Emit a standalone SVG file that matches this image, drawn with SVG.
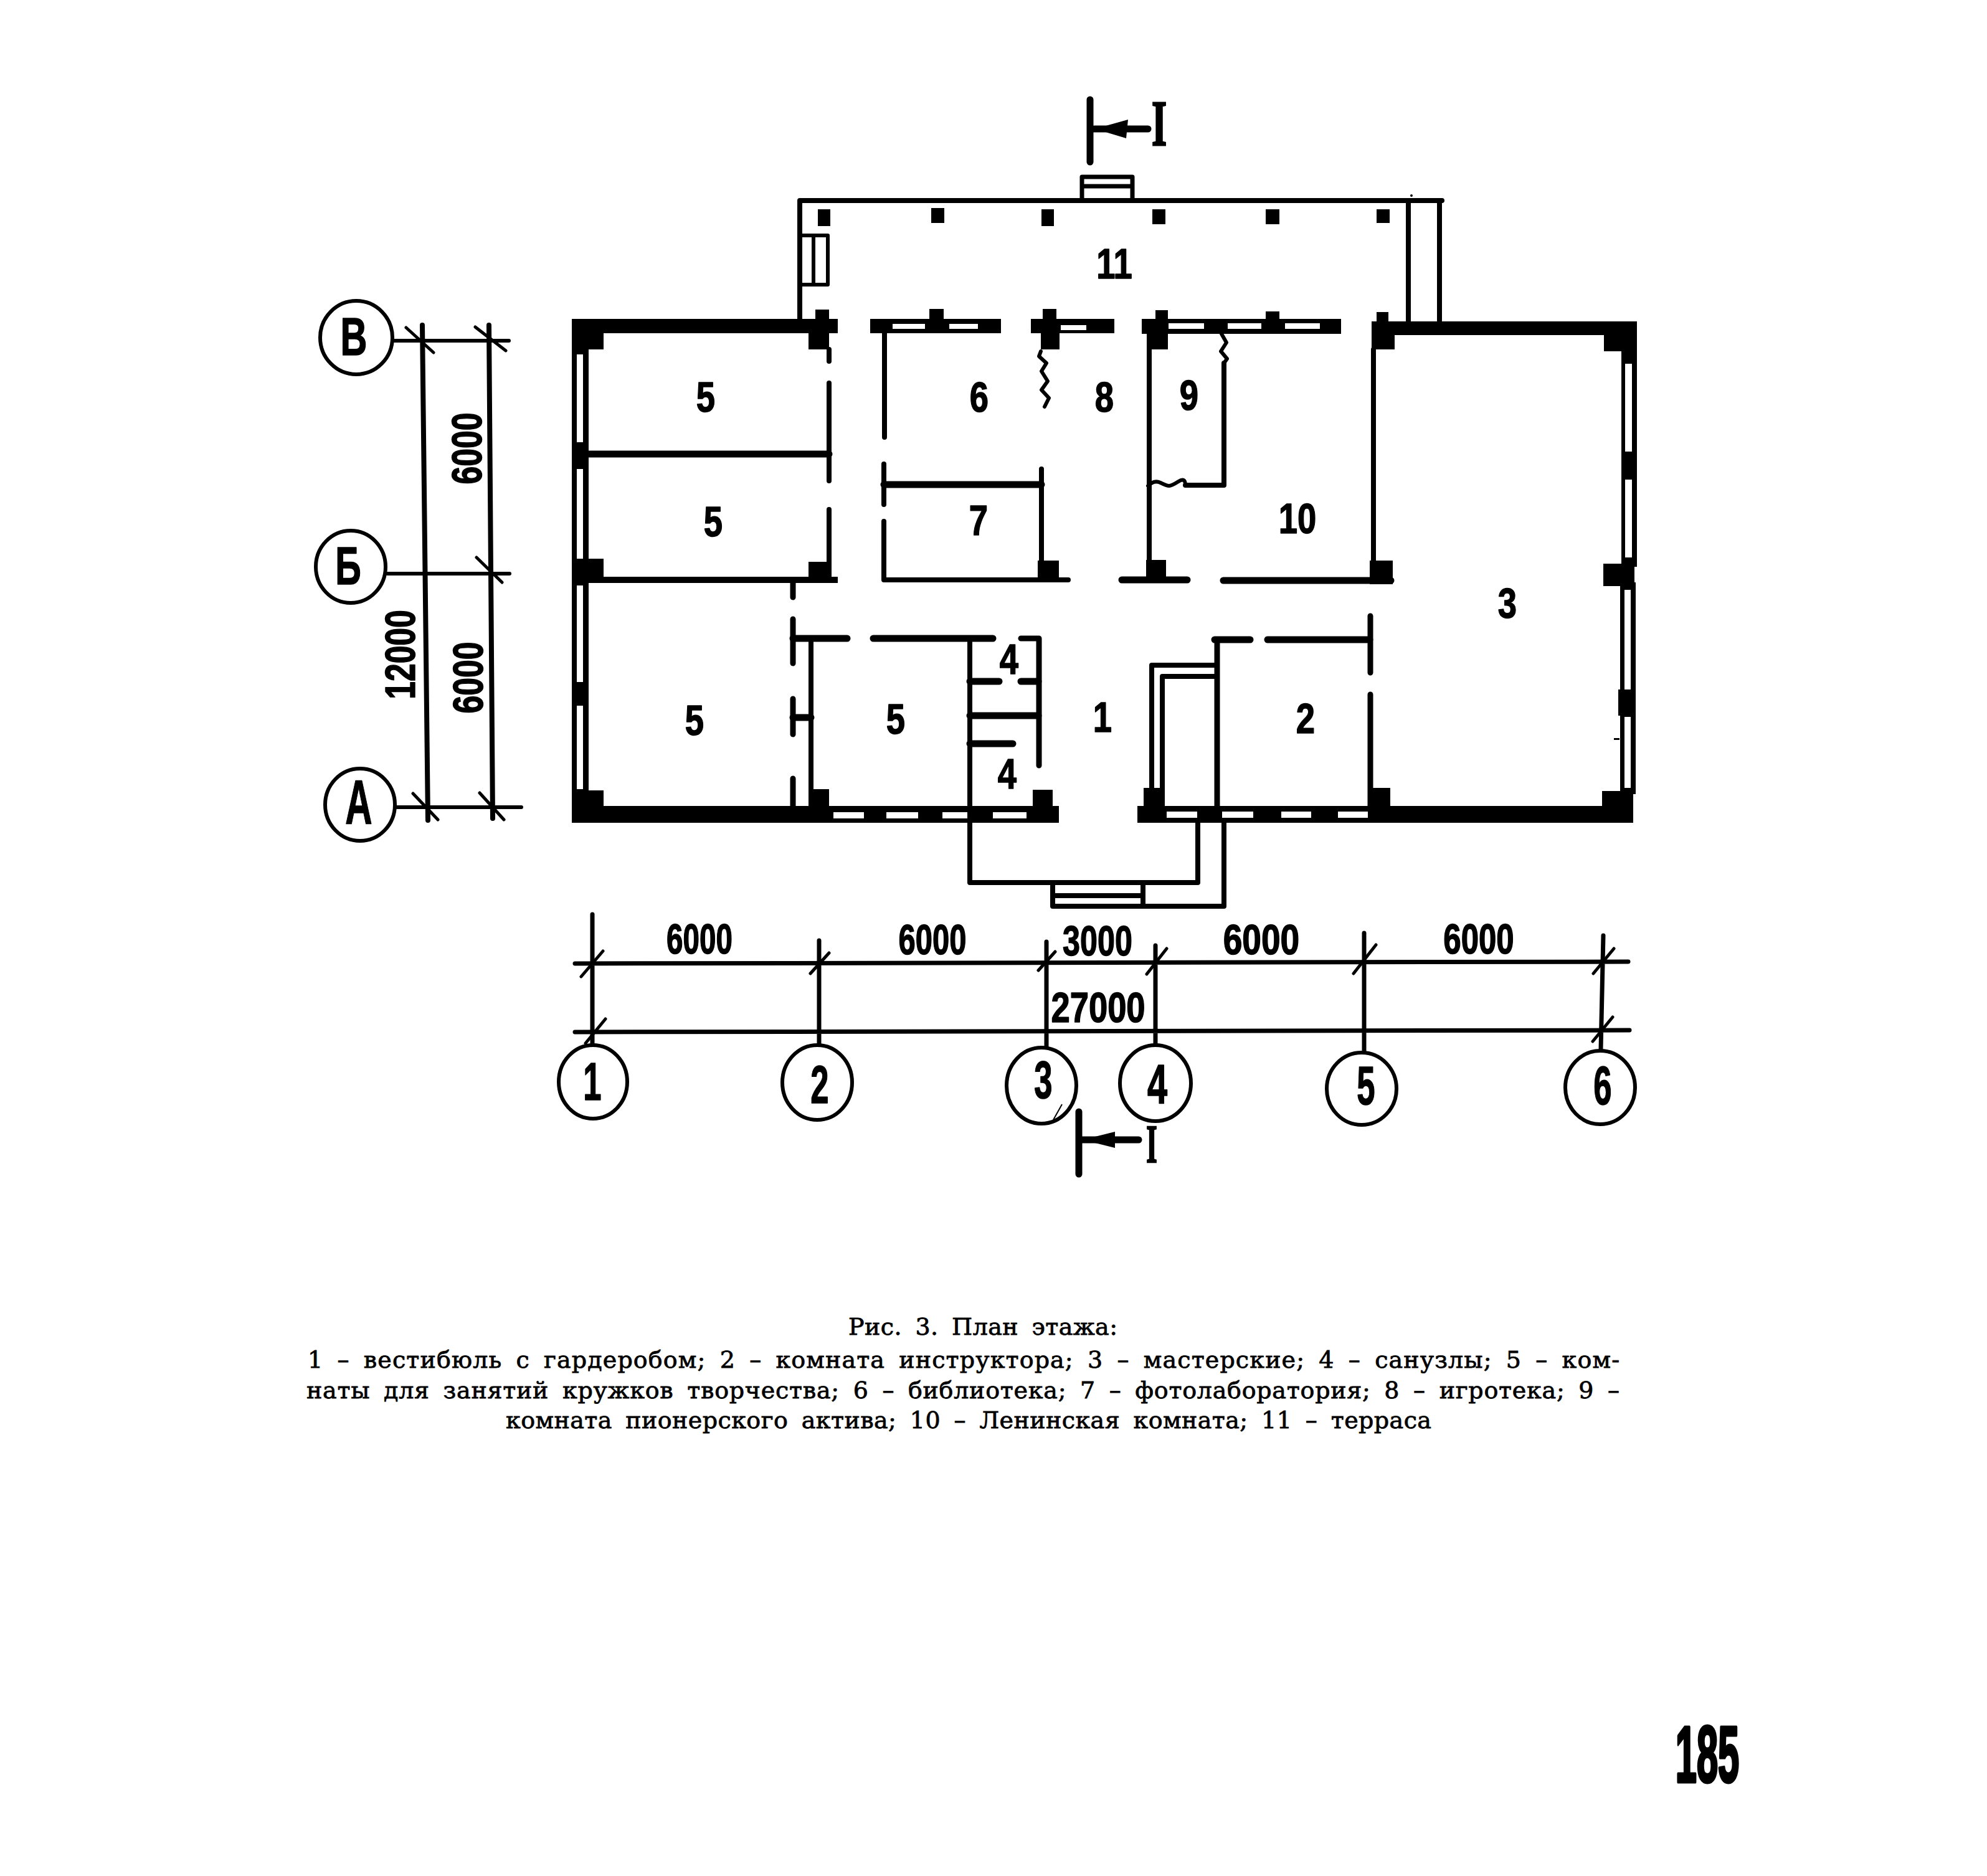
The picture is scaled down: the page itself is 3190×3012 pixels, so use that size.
<svg xmlns="http://www.w3.org/2000/svg" width="3190" height="3012" viewBox="0 0 3190 3012">
<style>
.w{fill:#000}
.g{fill:#fff}
.l{fill:none;stroke:#000;stroke-width:8;stroke-linecap:round;stroke-linejoin:round}
.t{stroke-width:11}
.n{stroke-width:6}
.d{stroke-width:7}
.k{stroke-width:5}
.c{fill:#fff;stroke:#000;stroke-width:6}
text{fill:#000}
.s{font-family:"Liberation Sans",Arial,sans-serif;font-weight:700;text-anchor:middle;stroke:#000;stroke-width:1.5;stroke-linejoin:round}
.r{font-size:68px}
.a{font-size:68px}
.b{font-size:85px}
.i{font-family:"Liberation Serif",serif;font-weight:700;font-size:100px;text-anchor:middle;stroke:#000;stroke-width:3}
.p{font-family:"DejaVu Serif",serif;font-size:38px;word-spacing:9px;stroke:#000;stroke-width:.8}
</style>
<rect width="3190" height="3012" fill="#fff"/>

<g id="terrace">
<path class="l" d="M1284 512V322H2315M2261 324V515M2311 324V515"/>
<path class="l n" d="M1737 322V284H1818V322M1737 299H1818" style="stroke-width:7"/>
<path class="l n" d="M1287 378H1329V457H1287M1306 378V457"/>
<circle cx="2266" cy="314" r="2" class="w"/>
<rect class="w" x="1313" y="336" width="20" height="27"/>
<rect class="w" x="1495" y="334" width="21" height="24"/>
<rect class="w" x="1672" y="336" width="20" height="27"/>
<rect class="w" x="1850" y="336" width="21" height="24"/>
<rect class="w" x="2032" y="336" width="22" height="24"/>
<rect class="w" x="2210" y="336" width="21" height="22"/>
</g>

<g id="walls">
<rect class="w" x="918" y="512" width="427" height="23"/>
<rect class="w" x="918" y="512" width="51" height="49"/>
<rect class="w" x="1309" y="497" width="22" height="64"/>
<rect class="w" x="1298" y="530" width="33" height="31"/>
<rect class="w" x="918" y="561" width="27" height="708"/>
<rect class="g" x="926" y="569" width="10" height="141"/>
<rect class="g" x="926" y="753" width="10" height="144"/>
<rect class="g" x="926" y="940" width="10" height="155"/>
<rect class="g" x="926" y="1133" width="10" height="134"/>
<rect class="w" x="918" y="897" width="51" height="39"/>
<rect class="w" x="918" y="926" width="427" height="10"/>
<rect class="w" x="1298" y="902" width="36" height="26"/>

<rect class="w" x="1397" y="512" width="210" height="23"/>
<rect class="g" x="1433" y="520" width="52" height="8"/>
<rect class="g" x="1524" y="520" width="46" height="8"/>
<rect class="w" x="1492" y="496" width="23" height="20"/>

<rect class="w" x="1655" y="512" width="134" height="23"/>
<rect class="g" x="1703" y="522" width="41" height="8"/>
<rect class="w" x="1674" y="496" width="22" height="40"/>
<rect class="w" x="1671" y="530" width="30" height="31"/>

<rect class="w" x="1833" y="512" width="320" height="24"/>
<rect class="g" x="1876" y="519" width="57" height="9"/>
<rect class="g" x="1971" y="519" width="54" height="9"/>
<rect class="g" x="2063" y="519" width="56" height="9"/>
<rect class="w" x="1855" y="498" width="20" height="20"/>
<rect class="w" x="1841" y="530" width="34" height="31"/>
<rect class="w" x="2032" y="500" width="22" height="16"/>

<rect class="w" x="2202" y="516" width="426" height="22"/>
<rect class="w" x="2202" y="517" width="37" height="44"/>
<rect class="w" x="2210" y="501" width="19" height="20"/>
<rect class="w" x="2575" y="516" width="53" height="48"/>
<rect class="w" x="2603" y="560" width="25" height="350"/>
<rect class="g" x="2609" y="584" width="11" height="141"/>
<rect class="g" x="2609" y="770" width="11" height="125"/>
<rect class="w" x="2574" y="905" width="50" height="36"/>
<rect class="w" x="2601" y="935" width="25" height="340"/>
<rect class="g" x="2608" y="947" width="10" height="160"/>
<rect class="g" x="2608" y="1151" width="10" height="114"/>
<rect class="w" x="2598" y="1107" width="28" height="42"/>
<rect class="w" x="2591" y="1185" width="9" height="3"/>
<rect class="w" x="2572" y="1270" width="50" height="30"/>

<rect class="w" x="918" y="1294" width="782" height="27"/>
<rect class="w" x="918" y="1269" width="51" height="30"/>
<rect class="g" x="1338" y="1304" width="49" height="10"/>
<rect class="g" x="1423" y="1304" width="51" height="10"/>
<rect class="g" x="1513" y="1304" width="40" height="10"/>
<rect class="g" x="1594" y="1304" width="54" height="10"/>
<rect class="w" x="1301" y="1267" width="30" height="30"/>
<rect class="w" x="1658" y="1268" width="32" height="30"/>

<rect class="w" x="1826" y="1294" width="796" height="27"/>
<rect class="g" x="1873" y="1303" width="49" height="10"/>
<rect class="g" x="1962" y="1303" width="50" height="10"/>
<rect class="g" x="2057" y="1303" width="48" height="10"/>
<rect class="g" x="2148" y="1303" width="48" height="10"/>
<rect class="w" x="1836" y="1265" width="34" height="32"/>
<rect class="w" x="2197" y="1265" width="35" height="32"/>

<rect class="w" x="1666" y="900" width="34" height="28"/>
<rect class="w" x="1840" y="899" width="32" height="30"/>
<rect class="w" x="2199" y="900" width="37" height="38"/>
</g>

<g id="partitions">
<path class="l" d="M1331 561V580M1331 615V772M1331 818V927M1420 535V702M1419 745V810M1419 837V931H1715M1672 753V927"/>
<path class="l" d="M1845 561V927M1965 583V779H1903M2205 561V900"/>
<path class="l t" d="M944 729H1331M1419 778H1672M1801 931H1906M1964 932H2233"/>
<path class="l" style="stroke-width:6" d="M1671 564L1668 572 1680 583 1672 596 1682 612 1672 626 1684 639 1677 653M1961 536L1969 550 1960 564 1970 576 1965 583M1843 780Q1853 770 1863 775T1877 780T1892 773T1903 779"/>
<path class="l" style="stroke-width:9" d="M1273 936V959M1273 994V1065M1273 1122V1179M1273 1250V1294"/>
<path class="l t" d="M1273 1025H1360M1402 1025H1594M1273 1152H1302"/>
<path class="l" d="M1302 1025V1294M1557 1025V1417H1923V1321M1965 1321V1455H1690V1417M1835 1417V1455M1690 1438H1835"/>
<path class="l" style="stroke-width:9" d="M1639 1025H1668V1229"/>
<path class="l t" d="M1557 1094H1604M1639 1094H1667M1557 1149H1667M1557 1194H1626"/>
<path class="l t" d="M1950 1027H2007M2035 1027H2199"/>
<path class="l" style="stroke-width:9" d="M1954 1027V1294M2200 989V1080M2200 1115V1294"/>
<path class="l" d="M1954 1068H1849V1265M1954 1086H1866V1294"/>
</g>

<g id="section-marks">
<path class="l t" d="M1750 160V260M1757 207H1843M1732 1785V1885M1738 1830H1828"/>
<path class="w" d="M1758 207L1811 192 1808 222Z"/>
<path class="w" d="M1738 1830L1790 1817 1790 1843Z"/>
<text class="i" transform="translate(1861 233) scale(.62 1.03)">I</text>
<text class="i" transform="translate(1849 1866) scale(.45 .87)">I</text>
</g>

<g id="dimensions">
<path class="l n" d="M633 547H817M622 921H818M637 1296H837"/>
<path class="l" d="M678 522L687 1317M785 522L791 1314"/>
<path class="l k" d="M652 526L696 566M763 525L812 563M765 895L806 935M663 1274L703 1316M770 1273L809 1316"/>
<path class="l d" d="M923 1547L2614 1544M923 1657L2616 1654M951 1468V1677M1315 1510V1677M1680 1512V1680M1855 1518V1677M2190 1498V1688M2574 1502L2570 1685"/>
<path class="l k" d="M968 1527L933 1568M972 1636L940 1675M1331 1530L1301 1563M1694 1528L1667 1558M1873 1523L1841 1564M2209 1517L2173 1563M2591 1523L2558 1563M2589 1633L2557 1672"/>
<g id="dim-labels">
<text class="s a" transform="translate(773 720) rotate(-90) scale(.76 1)">6000</text>
<text class="s a" transform="translate(775 1088) rotate(-90) scale(.76 1)">6000</text>
<text class="s a" transform="translate(666 1051) rotate(-90) scale(.76 1)">12000</text>
<text class="s a" transform="translate(1123 1531) scale(.7 1)">6000</text>
<text class="s a" transform="translate(1497 1532) scale(.72 1)">6000</text>
<text class="s a" transform="translate(1762 1534) scale(.74 1)">3000</text>
<text class="s a" transform="translate(1763 1641) scale(.8 1)">27000</text>
<text class="s a" transform="translate(2025 1532) scale(.81 1)">6000</text>
<text class="s a" transform="translate(2374 1531) scale(.75 1)">6000</text>
</g>
</g>

<g id="axis-В"><ellipse class="c" cx="572" cy="542" rx="58" ry="59"/><text class="s b" transform="translate(568 570) scale(.7 1)">В</text></g>
<g id="axis-Б"><ellipse class="c" cx="563" cy="910" rx="56" ry="58"/><text class="s b" transform="translate(559 938) scale(.68 1)">Б</text></g>
<g id="axis-А"><ellipse class="c" cx="578" cy="1292" rx="56" ry="58"/><text class="s b" style="font-size:100px" transform="translate(576 1323) scale(.6 1)">А</text></g>
<g id="axis-1"><ellipse class="c" cx="952" cy="1737" rx="55" ry="59"/><text class="s b" transform="translate(951 1766) scale(.62 1)">1</text></g>
<g id="axis-2"><ellipse class="c" cx="1312" cy="1738" rx="56" ry="60"/><text class="s b" transform="translate(1316 1771) scale(.62 1)">2</text></g>
<g id="axis-3"><ellipse class="c" cx="1672" cy="1743" rx="56" ry="61"/><text class="s b" transform="translate(1675 1763) scale(.62 1)">3</text>
<path d="M1705 1773L1691 1798" stroke="#000" stroke-width="2" fill="none"/></g>
<g id="axis-4"><ellipse class="c" cx="1855" cy="1739" rx="57" ry="61"/><text class="s b" transform="translate(1858 1772) scale(.68 1.05)">4</text></g>
<g id="axis-5"><ellipse class="c" cx="2186" cy="1748" rx="56" ry="58"/><text class="s b" transform="translate(2193 1773) scale(.62 1.03)">5</text></g>
<g id="axis-6"><ellipse class="c" cx="2569" cy="1746" rx="56" ry="59"/><text class="s b" transform="translate(2573 1773) scale(.62 1.03)">6</text></g>

<g id="room-labels">
<text class="s r" transform="translate(1133 661) scale(.8 1)">5</text>
<text class="s r" transform="translate(1145 861) scale(.8 1)">5</text>
<text class="s r" transform="translate(1572 661) scale(.8 1)">6</text>
<text class="s r" transform="translate(1773 661) scale(.8 1)">8</text>
<text class="s r" transform="translate(1571 859) scale(.8 1)">7</text>
<text class="s r" transform="translate(1789 447) scale(.8 1)">11</text>
<text class="s r" transform="translate(1909 658) scale(.8 1)">9</text>
<text class="s r" transform="translate(2083 856) scale(.8 1)">10</text>
<text class="s r" transform="translate(2420 992) scale(.8 1)">3</text>
<text class="s r" transform="translate(2096 1177) scale(.8 1)">2</text>
<text class="s r" transform="translate(1770 1175) scale(.8 1)">1</text>
<text class="s r" transform="translate(1115 1180) scale(.8 1)">5</text>
<text class="s r" transform="translate(1438 1178) scale(.8 1)">5</text>
<text class="s r" transform="translate(1620 1082) scale(.8 1)">4</text>
<text class="s r" transform="translate(1617 1266) scale(.8 1)">4</text>
</g>

<g id="caption">
<text class="p" x="1362" y="2143" textLength="432" lengthAdjust="spacing">Рис. 3. План этажа:</text>
<text class="p" x="494" y="2196" textLength="2106" lengthAdjust="spacing">1 – вестибюль с гардеробом; 2 – комната инструктора; 3 – мастерские; 4 – санузлы; 5 – ком-</text>
<text class="p" x="492" y="2245" textLength="2108" lengthAdjust="spacing">наты для занятий кружков творчества; 6 – библиотека; 7 – фотолаборатория; 8 – игротека;  9 –</text>
<text class="p" x="812" y="2293" textLength="1486" lengthAdjust="spacing">комната пионерского актива; 10 – Ленинская комната; 11 – терраса</text>
</g>

<text id="page-number" class="s" style="font-size:128px;stroke-width:5" transform="translate(2741 2861) scale(.48 1)">185</text>
</svg>
